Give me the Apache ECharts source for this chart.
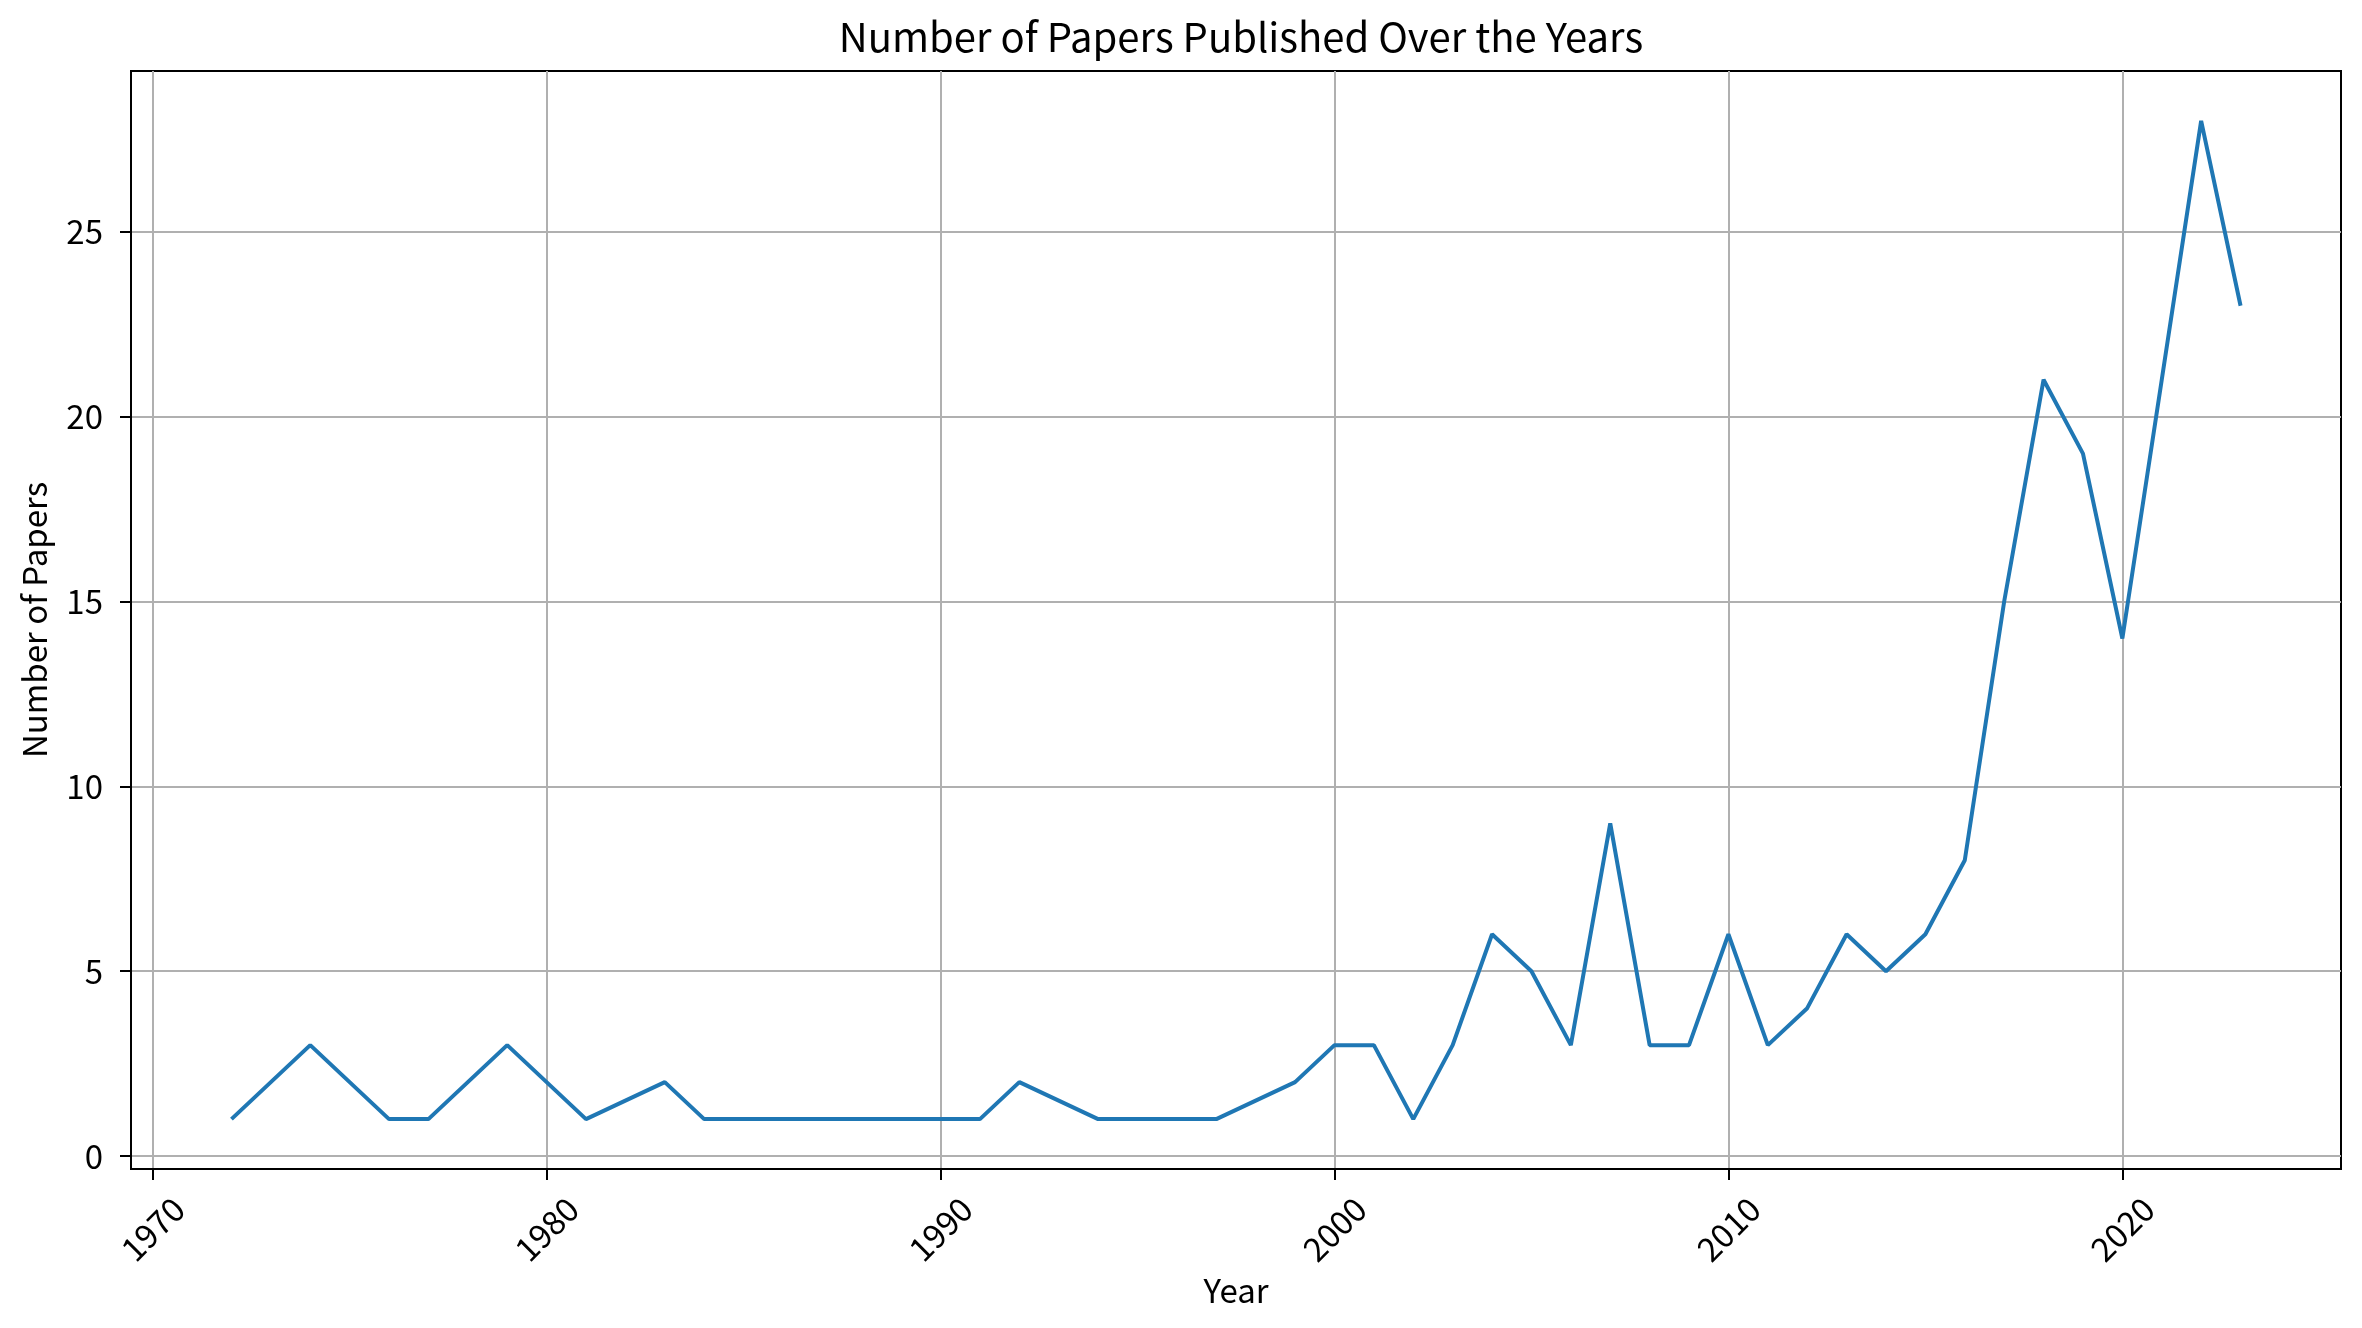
<!DOCTYPE html>
<html>
<head>
<meta charset="utf-8">
<script src="https://cdn.jsdelivr.net/npm/echarts@6/dist/echarts.min.js"></script>
<style>
    html, body { margin: 0; padding: 0; background: #fff; }
    #chart { width: 2362px; height: 1328px; }
</style>
</head>
<body>
<div id="chart"></div>
<script>
    // years that show up as corners of the line, and the paper counts for them
    var years = [1972, 1974, 1976, 1977, 1979, 1981, 1983, 1984, 1991, 1992, 1994, 1997, 1999,
        2000, 2001, 2002, 2003, 2004, 2005, 2006, 2007, 2008, 2009, 2010, 2011, 2012,
        2013, 2014, 2015, 2016, 2017, 2018, 2019, 2020, 2021, 2022, 2023];
    var papers = [1, 3, 1, 1, 3, 1, 2, 1, 1, 2, 1, 1, 2,
        3, 3, 1, 3, 6, 5, 3, 9, 3, 3, 6, 3, 4,
        6, 5, 6, 8, 15, 21, 19, 14, 21, 28, 23];
    var xTicks = [1970, 1980, 1990, 2000, 2010, 2020];
    var yTicks = [0, 5, 10, 15, 20, 25];

    var font = '"Noto Sans CJK SC", "Noto Sans", sans-serif';
    var chart = echarts.init(document.getElementById('chart'));

    chart.setOption({
        animation: false,
        backgroundColor: '#fff',
        title: {
            text: 'Number of Papers Published Over the Years',
            left: 1236,
            top: 12,
            textAlign: 'center',
            textStyle: { fontFamily: font, fontSize: 40, fontWeight: 'normal', color: '#000' }
        },
        grid: {
            left: 131,
            right: 21,
            top: 71,
            bottom: 159,
            show: true,
            borderColor: '#000',
            borderWidth: 2
        },
        xAxis: {
            type: 'value',
            min: 1969.45,
            max: 2025.55,
            name: 'Year',
            nameLocation: 'middle',
            nameGap: 100,
            nameTextStyle: { fontFamily: font, fontSize: 33, color: '#000' },
            axisLine: { show: true, onZero: false, lineStyle: { color: '#000', width: 2 } },
            axisTick: { show: true, length: 11, customValues: xTicks, lineStyle: { color: '#000', width: 2 } },
            axisLabel: {
                customValues: xTicks,
                rotate: 45,
                align: 'center',
                verticalAlign: 'middle',
                margin: 60,
                fontFamily: font,
                fontSize: 33,
                color: '#000',
                formatter: function (v) { return String(v); }
            },
            splitLine: { show: true, lineStyle: { color: '#b0b0b0', width: 2 } }
        },
        yAxis: {
            type: 'value',
            min: -0.35,
            max: 29.35,
            name: 'Number of Papers',
            nameLocation: 'middle',
            nameGap: 80,
            nameTextStyle: { fontFamily: font, fontSize: 33, color: '#000' },
            axisLine: { show: true, onZero: false, lineStyle: { color: '#000', width: 2 } },
            axisTick: { show: true, length: 11, customValues: yTicks, lineStyle: { color: '#000', width: 2 } },
            axisLabel: {
                customValues: yTicks,
                margin: 28,
                fontFamily: font,
                fontSize: 33,
                color: '#000'
            },
            splitLine: { show: true, lineStyle: { color: '#b0b0b0', width: 2 } }
        },
        series: [{
            type: 'line',
            data: years.map(function (y, i) { return [y, papers[i]]; }),
            symbol: 'none',
            lineStyle: { color: '#1f77b4', width: 4 },
            itemStyle: { color: '#1f77b4' }
        }]
    });
</script>
</body>
</html>
